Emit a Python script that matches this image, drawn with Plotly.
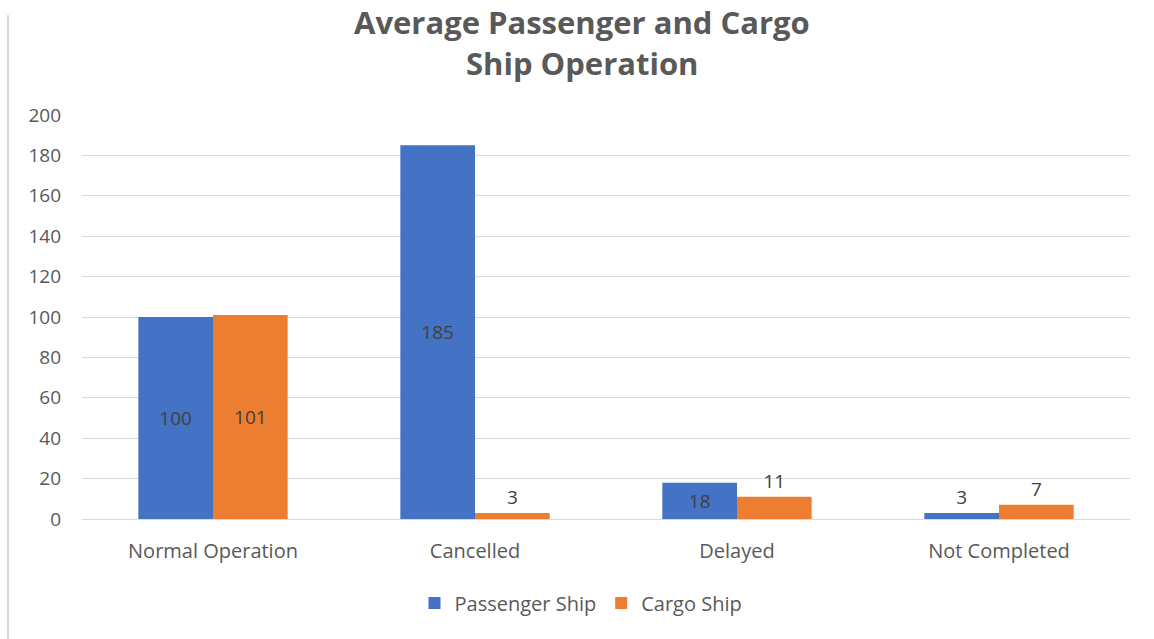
import plotly.graph_objects as go

categories = ["Normal Operation", "Cancelled", "Delayed", "Not Completed"]
passenger = [100, 185, 18, 3]
cargo = [101, 3, 11, 7]
passenger_pos = ["inside", "inside", "inside", "outside"]
cargo_pos = ["inside", "outside", "outside", "outside"]
yticks = [0, 20, 40, 60, 80, 100, 120, 140, 160, 180, 200]
title_lines = ["Average Passenger and Cargo", "Ship Operation"]

FONT = "Open Sans"
W, H = 1154, 639
L, R, T, B = 82, 24, 115, 120

fig = go.Figure()
fig.add_trace(go.Bar(
    name="Passenger Ship", x=categories, y=passenger,
    marker=dict(color="#4472C4", line=dict(width=0)),
    text=[str(v) for v in passenger], textposition=passenger_pos,
    insidetextanchor="middle", constraintext="none", cliponaxis=False,
    textfont=dict(family=FONT, size=19, color="#404040"),
))
fig.add_trace(go.Bar(
    name="Cargo Ship", x=categories, y=cargo,
    marker=dict(color="#ED7D31", line=dict(width=0)),
    text=[str(v) for v in cargo], textposition=cargo_pos,
    insidetextanchor="middle", constraintext="none", cliponaxis=False,
    textfont=dict(family=FONT, size=19, color="#404040"),
))

pw = W - L - R
ph = H - T - B
def px_to_paper_x(px):
    return (px - L) / pw
def px_to_paper_y(py):
    return (H - B - py) / ph

fig.add_shape(type="line", xref="paper", yref="paper",
              x0=px_to_paper_x(8), x1=px_to_paper_x(8),
              y0=px_to_paper_y(15), y1=px_to_paper_y(639),
              line=dict(color="#d9d9d9", width=2))

for line, py in zip(title_lines, [22, 63]):
    fig.add_annotation(text=f"<b>{line}</b>", xref="paper", yref="paper",
                       x=px_to_paper_x(582), y=px_to_paper_y(py),
                       xanchor="center", yanchor="middle", showarrow=False,
                       font=dict(family=FONT, size=31, color="#595959"))

fig.update_layout(
    width=W, height=H,
    margin=dict(l=L, r=R, t=T, b=B, autoexpand=False),
    paper_bgcolor="white", plot_bgcolor="white",
    barmode="group", bargap=0.43, bargroupgap=0,
    font=dict(family=FONT, color="#595959"),
    xaxis=dict(showline=False, showgrid=False, ticks="",
               tickfont=dict(family=FONT, size=20, color="#595959"),
               ticklabelstandoff=18),
    yaxis=dict(range=[0, 200], tickvals=yticks, showgrid=True,
               gridcolor="#d9d9d9", gridwidth=1, zeroline=True,
               zerolinecolor="#d9d9d9", zerolinewidth=1, showline=False,
               ticks="", tickfont=dict(family=FONT, size=19, color="#595959"),
               ticklabelstandoff=20),
    legend=dict(orientation="h", x=px_to_paper_x(581), xanchor="center",
                y=px_to_paper_y(603), yanchor="middle",
                font=dict(family=FONT, size=20, color="#595959"),
                itemwidth=30, traceorder="normal"),
    showlegend=True,
)

fig.write_html("out.html", config={"displayModeBar": False},
               post_script="document.body.style.margin='0';")
